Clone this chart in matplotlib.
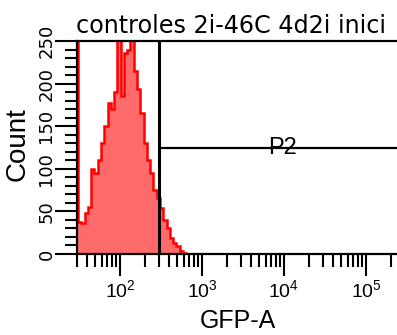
import matplotlib
matplotlib.use('Agg')
import matplotlib.pyplot as plt
import numpy as np
from matplotlib.ticker import LogLocator, MultipleLocator

plt.rcParams['font.family'] = ['Liberation Sans', 'DejaVu Sans']

# histogram: bin edges (log10 of GFP-A) and counts
first_edges = [1.44, 1.488]
pile_up = [300]            # events piled up at the lowest channel
bin_step = 0.04
counts = [37, 36, 48, 55, 100, 95, 110, 130, 150, 177, 170, 190, 252, 185,
          236, 240, 255, 215, 194, 165, 130, 110, 95, 75, 66, 54, 40, 30,
          19, 13, 9, 4, 1]

gate_low = 300
gate_level = 124
gate_name = 'P2'
title = 'controles 2i-46C 4d2i inici'

log_edges = first_edges + [first_edges[-1] + bin_step * (k + 1) for k in range(len(counts))]
edges = 10 ** np.array(log_edges)
values = np.array(pile_up + counts, dtype=float)

W, H = 397, 335
fig = plt.figure(figsize=(W / 100, H / 100), dpi=100)
ax = fig.add_axes([77 / W, 1 - 254 / H, (401 - 77) / W, (254 - 41) / H])

ax.stairs(values, edges, fill=True, color='#ff6b6b', baseline=0, zorder=1)
ax.stairs(values, edges, color='#ff0000', lw=1.8, baseline=0, zorder=2)

# interval gate
ax.axvline(gate_low, color='black', lw=2.2, zorder=3)
ax.hlines(gate_level, gate_low, 1e7, color='black', lw=1.6, zorder=3)
ax.text(10 ** 3.98, gate_level, gate_name, ha='center', va='center',
        fontsize=17, family=['Liberation Sans Narrow', 'Liberation Sans'], zorder=4)

ax.set_xscale('log')
ax.set_xlim(10 ** 1.476, 10 ** (1.476 + 324 / 82))
ax.set_ylim(0, 250)

ax.xaxis.set_major_locator(LogLocator(base=10, numticks=10))
ax.xaxis.set_minor_locator(LogLocator(base=10, subs=np.arange(2, 10), numticks=20))
ax.yaxis.set_major_locator(MultipleLocator(50))
ax.yaxis.set_minor_locator(MultipleLocator(10))

ax.tick_params(axis='both', which='major', direction='out', length=15.5, width=1.5,
               color='black')
ax.tick_params(axis='both', which='minor', direction='out', length=9, width=1.5,
               color='black')
ax.tick_params(axis='x', which='major', labelsize=14, pad=3)
ax.tick_params(axis='y', which='major', labelsize=13, pad=0, labelrotation=90,
               labelfontfamily='Liberation Sans Narrow')
for lab in ax.get_yticklabels():
    lab.set_va('center')

for side in ['top', 'left', 'bottom', 'right']:
    ax.spines[side].set_linewidth(1.6)

fig.text(76 / W, 1 - 33 / H, title, ha='left', va='baseline', fontsize=17.2,
         family='DejaVu Sans')
fig.text(18 / W, 1 - 144 / H, 'Count', rotation=90, ha='center', va='center',
         fontsize=20)
fig.text(238 / W, 1 - 321 / H, 'GFP-A', ha='center', va='center', fontsize=18)

fig.savefig('out.png', dpi=100)
